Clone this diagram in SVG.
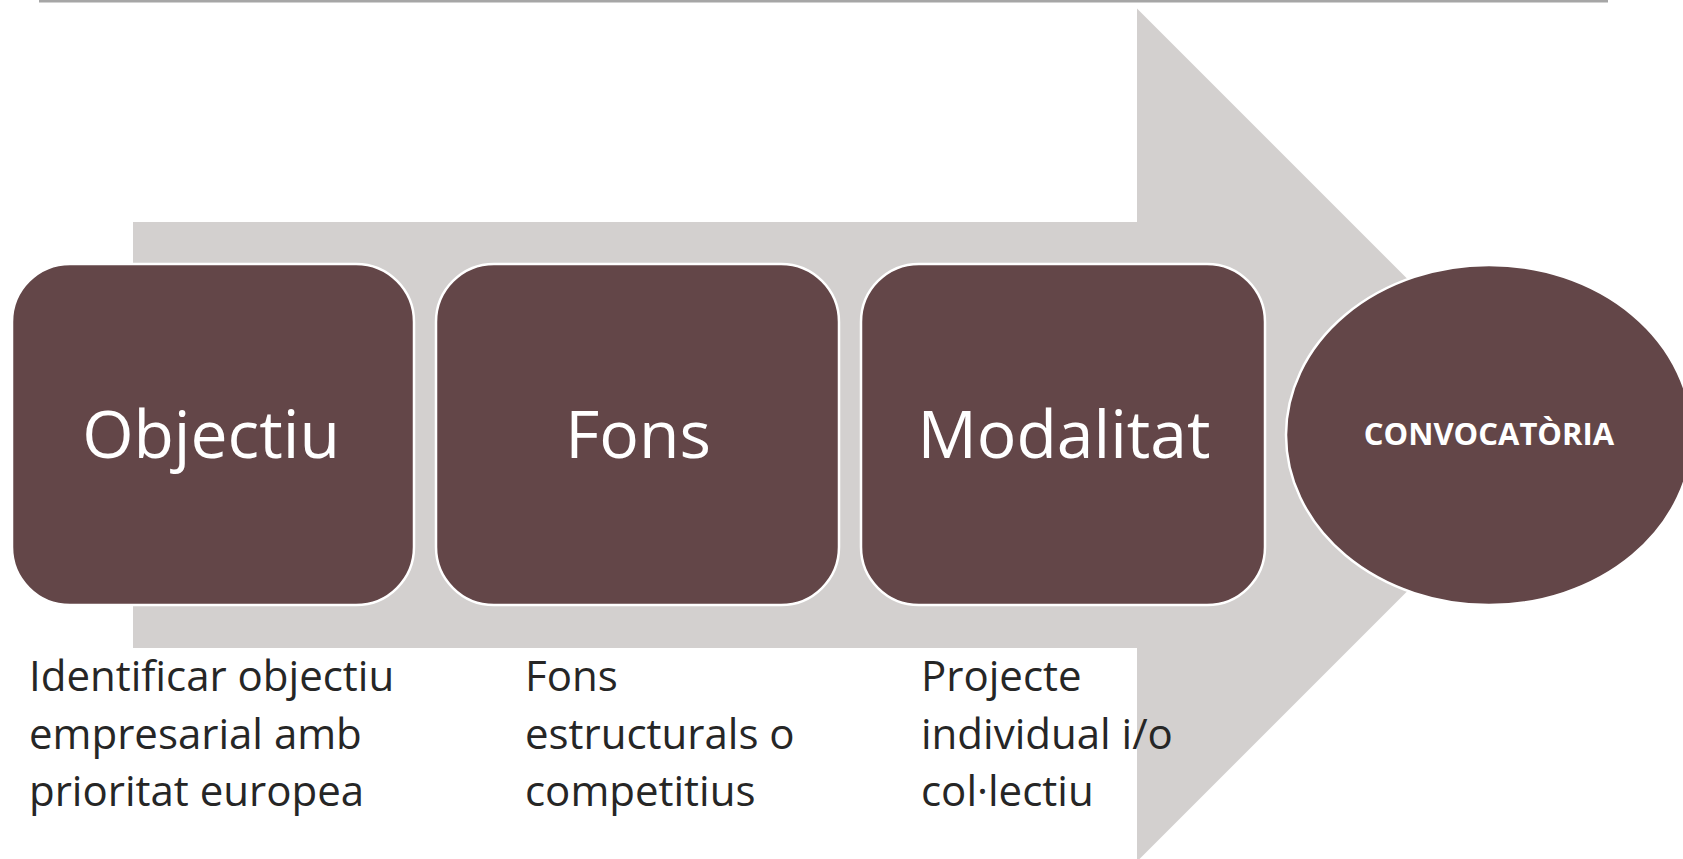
<svg xmlns="http://www.w3.org/2000/svg" width="1683" height="859" viewBox="0 0 1683 859">
<style>
.box{fill:#634648;stroke:#ffffff;stroke-width:2.5}
.lbl{font-family:"Open Sans","Noto Sans",sans-serif;fill:#ffffff;text-anchor:middle}
.big{font-size:66px}
.desc{font-family:"Open Sans","Noto Sans",sans-serif;font-size:42px;fill:#262626}
</style>
<rect x="0" y="0" width="1683" height="859" fill="#ffffff"/>
<rect x="39" y="0" width="1569" height="2.5" fill="#a6a6a6"/>
<g id="connectors">
<polygon id="big-arrow" points="133,222 1137,222 1137,8.5 1563.5,435 1137,861.5 1137,648 133,648" fill="#d3d0cf"/>
</g>
<g id="node-objectiu">
<rect class="box" x="12" y="264" width="402" height="341" rx="58" ry="58"/>
<text class="lbl big" x="211" y="458">Objectiu</text>
</g>
<g id="node-fons">
<rect class="box" x="436" y="264" width="403" height="341" rx="58" ry="58"/>
<text class="lbl big" x="638" y="458">Fons</text>
</g>
<g id="node-modalitat">
<rect class="box" x="861" y="264" width="404" height="341" rx="58" ry="58"/>
<text class="lbl big" x="1064" y="458">Modalitat</text>
</g>
<g id="node-convocatoria">
<ellipse class="box" cx="1489" cy="435" rx="203" ry="170"/>
<text class="lbl" x="1489" y="445" font-size="31" font-weight="bold">CONVOCATÒRIA</text>
</g>
<g id="desc-objectiu">
<text class="desc" x="29" y="691">Identificar objectiu</text>
<text class="desc" x="29" y="749">empresarial amb</text>
<text class="desc" x="29" y="806">prioritat europea</text>
</g>
<g id="desc-fons">
<text class="desc" x="525" y="691">Fons</text>
<text class="desc" x="525" y="749">estructurals o</text>
<text class="desc" x="525" y="806">competitius</text>
</g>
<g id="desc-modalitat">
<text class="desc" x="921" y="691">Projecte</text>
<text class="desc" x="921" y="749">individual i/o</text>
<text class="desc" x="921" y="806">col·lectiu</text>
</g>
</svg>
